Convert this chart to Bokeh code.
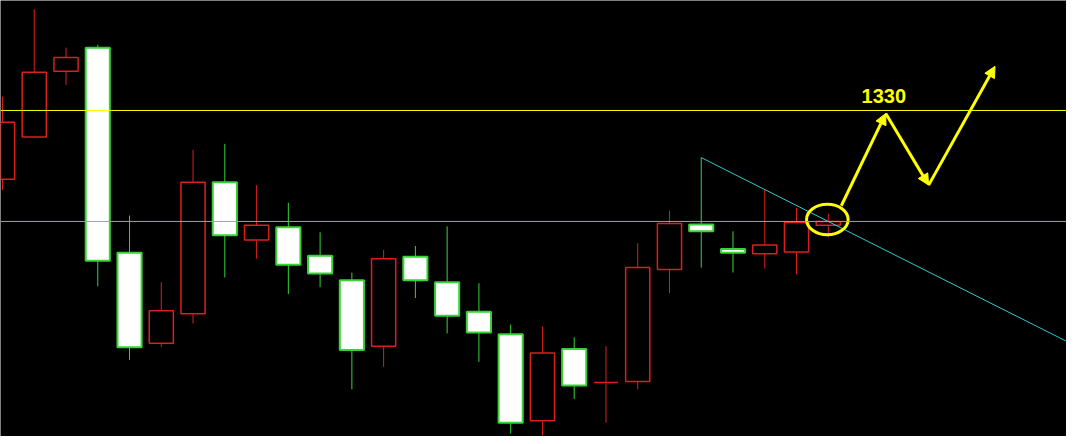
from bokeh.plotting import figure
from bokeh.models import Range1d, Span, Arrow, NormalHead, ColumnDataSource
from bokeh.core.properties import value
from bokeh.embed import file_html
from bokeh.resources import INLINE

# ---- candle data (index, OHLC) ----
idx = list(range(27))
opens = [1312.5, 1323.25, 1340, 1346, 1293.75, 1270.75, 1278.25, 1311.75, 1297, 1300.25,
         1293, 1286.75, 1270, 1292.75, 1286.25, 1278.75, 1273, 1251, 1269.25, 1260.75,
         1261, 1289.5, 1301, 1294.75, 1293.5, 1294, 1300.75]
highs = [1333.5, 1355.75, 1346, 1346.75, 1303.25, 1286.25, 1320, 1321.5, 1311, 1306.5,
         1299, 1288.75, 1294.5, 1295.5, 1300.5, 1286, 1275.5, 1275, 1272.25, 1270,
         1296.25, 1304.5, 1318, 1299.25, 1309.75, 1305.25, 1303.75]
lows = [1309.75, 1323.25, 1336.5, 1285.25, 1266.5, 1269.75, 1275.75, 1287.5, 1292.25, 1283.25,
        1285, 1259, 1264.75, 1282.25, 1273.25, 1266, 1247.75, 1247.25, 1256.5, 1250.5,
        1259, 1283.5, 1290, 1288.75, 1289.75, 1288.25, 1297.75]
closes = [1327, 1339.75, 1343.5, 1291.75, 1269.75, 1279, 1311.75, 1298.25, 1300.75, 1290.75,
          1288.5, 1269, 1292.25, 1286.75, 1277.75, 1273.5, 1250.5, 1268.25, 1260, 1260.75,
          1290, 1301.25, 1299.25, 1293.75, 1295.75, 1301.5, 1301.75]

# ---- annotation data ----
level_target = 1330
level_mid = 1301.75
trend_x = [22, 33.5]
trend_y = [1318, 1271.25]
path_x = [26.41, 27.81, 29.16, 31.25]
path_y = [1305.75, 1329.25, 1311, 1341.25]
circle_x = [25.97]
circle_y = [1302.25]
circle_w = [1.31]
circle_h = [7.75]
label_x = [27.75]
label_y = [1333.6]
label_text = ["1330"]

RED = "#dc1e1e"
GREEN = "#35d435"
YELLOW = "#ffff00"

up = [closes[i] >= opens[i] for i in idx]

up_src = dict(x=[], top=[], bottom=[], hi=[], lo=[])
dn_src = dict(x=[], top=[], bottom=[], hi=[], lo=[])
for i in idx:
    d = up_src if up[i] else dn_src
    d["x"].append(i)
    d["top"].append(max(opens[i], closes[i]))
    d["bottom"].append(min(opens[i], closes[i]))
    d["hi"].append(highs[i])
    d["lo"].append(lows[i])

p = figure(width=1066, height=436, x_range=Range1d(-0.0625, 33.5),
           y_range=Range1d(1247, 1358), output_backend="svg", toolbar_location=None)
p.axis.visible = False
p.grid.visible = False
p.min_border = 0
p.background_fill_color = "black"
p.border_fill_color = "black"
p.outline_line_color = None

p.add_layout(Span(location=level_target, dimension="width", line_color=YELLOW, line_width=1))
p.add_layout(Span(location=level_mid, dimension="width", line_color="#a0a0a8", line_width=1))

us = ColumnDataSource(up_src)
ds = ColumnDataSource(dn_src)
# wicks
p.segment(x0="x", y0="hi", x1="x", y1="top", source=us, line_color=RED, line_width=1)
p.segment(x0="x", y0="bottom", x1="x", y1="lo", source=us, line_color=RED, line_width=1)
p.segment(x0="x", y0="hi", x1="x", y1="lo", source=ds, line_color=GREEN, line_width=1)
# bodies
p.vbar(x="x", top="top", bottom="bottom", width=0.76, source=us,
       fill_color=None, line_color=RED, line_width=1.5)
p.vbar(x="x", top="top", bottom="bottom", width=0.76, source=ds,
       fill_color="white", line_color=GREEN, line_width=2)

# trend line
p.line(trend_x, trend_y, line_color="#30c8d0", line_width=1)

# circle
p.ellipse(x=circle_x, y=circle_y, width=circle_w, height=circle_h,
          fill_color=None, line_color=YELLOW, line_width=3)

# arrow path
asrc = ColumnDataSource(dict(x0=path_x[:-1], y0=path_y[:-1], x1=path_x[1:], y1=path_y[1:]))
p.add_layout(Arrow(end=NormalHead(size=11, fill_color=YELLOW, line_color=YELLOW, line_width=1),
                   x_start="x0", y_start="y0", x_end="x1", y_end="y1", source=asrc,
                   line_color=YELLOW, line_width=3))

p.text(x=label_x, y=label_y, text=label_text, text_font=value("Liberation Sans"),
       text_font_style="bold", text_font_size="20px", text_color=YELLOW,
       text_align="center", text_baseline="middle")

open("out.html", "w").write(file_html(p, INLINE))
